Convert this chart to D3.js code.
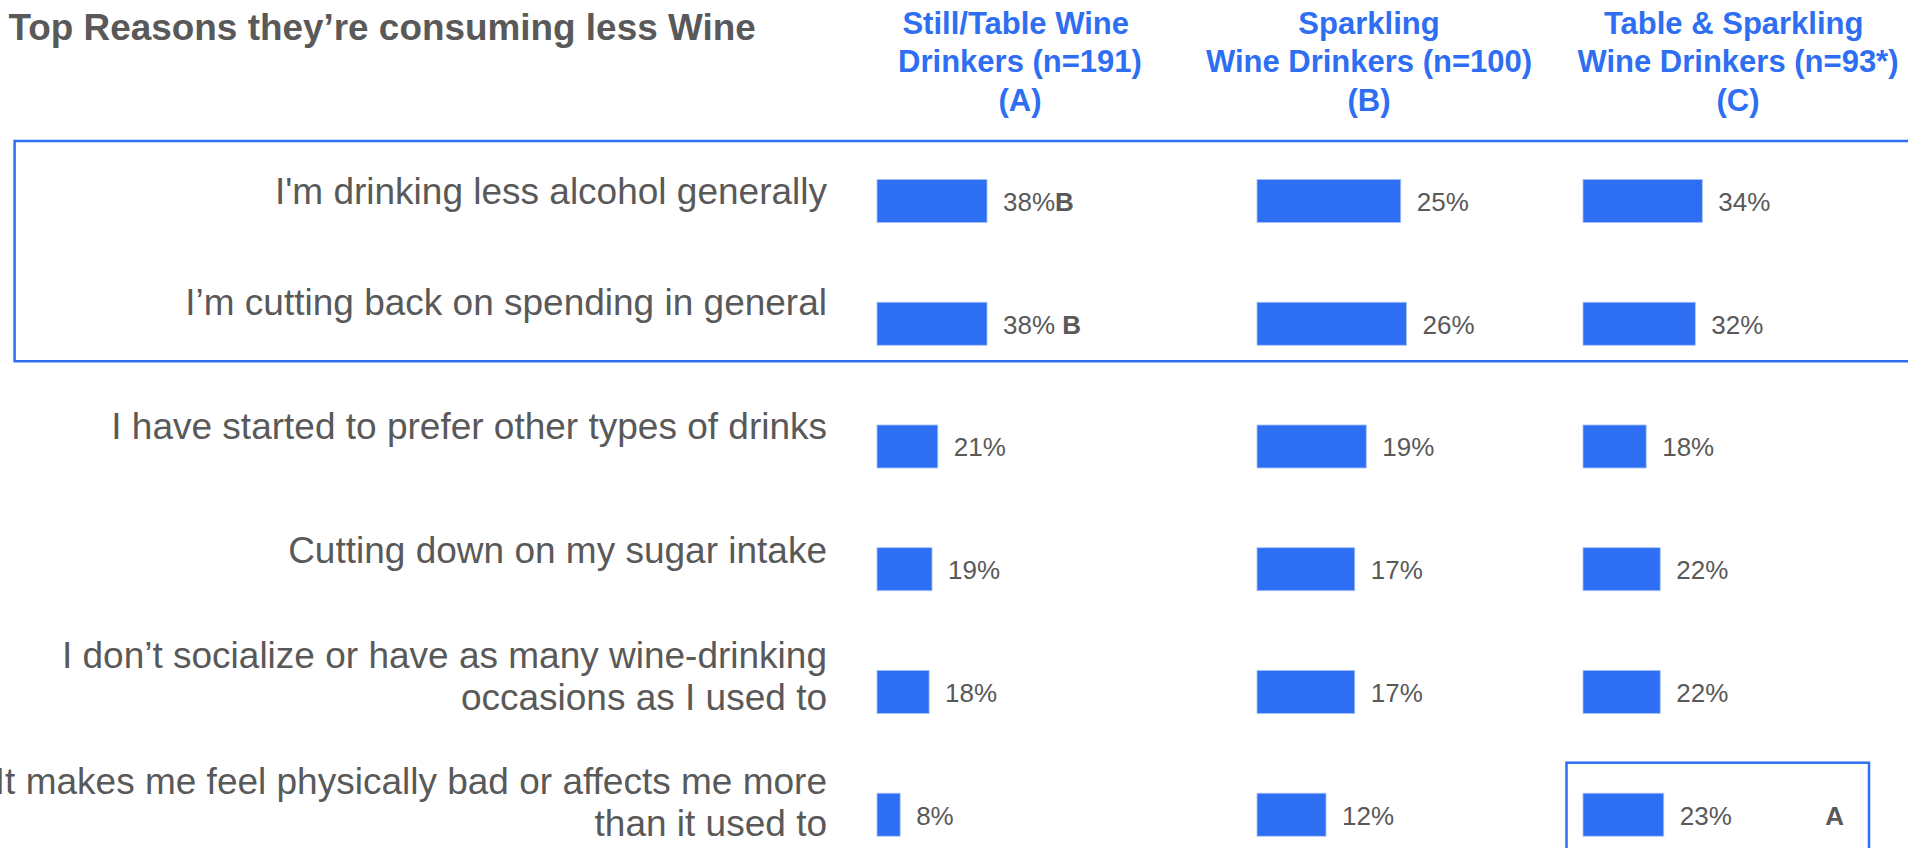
<!DOCTYPE html>
<html>
<head>
<meta charset="utf-8">
<script src="https://cdn.jsdelivr.net/npm/d3@7"></script>
<style>
  html, body { margin: 0; padding: 0; background: #ffffff; }
  svg { display: block; font-family: "Liberation Sans", Arial, sans-serif; }
</style>
</head>
<body>
<svg id="chart" width="1908" height="848"></svg>
<script>
// Survey: reasons for drinking less wine, by drinker group
const title = "Top Reasons they’re consuming less Wine";

const reasons = [
  ["I'm drinking less alcohol generally"],
  ["I’m cutting back on spending in general"],
  ["I have started to prefer other types of drinks"],
  ["Cutting down on my sugar intake"],
  ["I don’t socialize or have as many wine-drinking", "occasions as I used to"],
  ["It makes me feel physically bad or affects me more", "than it used to"]
];

const groupHeaders = [
  ["Still/Table Wine\u00a0", "Drinkers (n=191)", "(A)"],
  ["Sparkling", "Wine Drinkers (n=100)", "(B)"],
  ["Table & Sparkling\u00a0", "Wine Drinkers (n=93*)", "(C)"]
];

const stillValues     = [38, 38, 21, 19, 18, 8];
const sparklingValues = [25, 26, 19, 17, 17, 12];
const bothValues      = [34, 32, 18, 22, 22, 23];

// significance letters (group that this cell is significantly higher than)
const stillSig     = ["B", " B", "", "", "", ""];
const sparklingSig = ["", "", "", "", "", ""];
const bothSig      = ["", "", "", "", "", "A"];

const series = [
  { values: stillValues, sig: stillSig },
  { values: sparklingValues, sig: sparklingSig },
  { values: bothValues, sig: bothSig }
];

// ---- layout ----
const grey = "#595959";
const blue = "#2E6EF2";
const svg = d3.select("#chart");

const rowIdx = d3.range(reasons.length);
const y = d3.scalePoint().domain(rowIdx).range([201, 814.7]);
const barH = 43;

// each group column has its own x scale
const colLeft = [877, 1257, 1583];
const colCenter = [1020, 1369, 1738];
const colWidthPer100 = [289.5, 575, 351];
const xScales = colLeft.map((l, i) =>
  d3.scaleLinear().domain([0, 100]).range([l, l + colWidthPer100[i]]));

// title
svg.append("text")
  .attr("x", 8.5).attr("y", 40)
  .attr("font-size", 36.9).attr("font-weight", "bold")
  .attr("fill", grey)
  .text(title);

// group headers
groupHeaders.forEach((lines, c) => {
  const t = svg.append("text")
    .attr("text-anchor", "middle")
    .attr("font-size", 31).attr("font-weight", "bold")
    .attr("fill", blue)
    .style("white-space", "pre");
  lines.forEach((ln, k) => {
    t.append("tspan").attr("x", colCenter[c]).attr("y", 34 + k * 38.3).text(ln);
  });
});

// highlight box around the first two reasons
const labelShift = [-10, -22, -21, -20, -16, -13];
svg.append("rect")
  .attr("x", 14.6).attr("y", y(0) - 60)
  .attr("width", 1950).attr("height", (y(1) + 37.5) - (y(0) - 60))
  .attr("fill", "none").attr("stroke", blue).attr("stroke-width", 2.5);

// reason labels
const labelSize = 37, lineGap = 42;
reasons.forEach((lines, i) => {
  const mid = y(i) + labelShift[i];
  const t = svg.append("text")
    .attr("text-anchor", "end")
    .attr("font-size", labelSize)
    .attr("fill", grey);
  lines.forEach((ln, k) => {
    const cy = mid + (k - (lines.length - 1) / 2) * lineGap;
    t.append("tspan").attr("x", 827).attr("y", cy + labelSize * 0.36).text(ln);
  });
});

// bars + value labels
const valSize = 26;
series.forEach((s, c) => {
  const x = xScales[c];
  const g = svg.append("g");
  g.selectAll("rect")
    .data(s.values)
    .join("rect")
    .attr("x", x(0))
    .attr("y", (d, i) => y(i) - barH / 2)
    .attr("width", d => x(d) - x(0))
    .attr("height", barH)
    .attr("fill", blue)
    .attr("stroke", "#a9c3f8").attr("stroke-width", 0.8);

  s.values.forEach((v, i) => {
    const t = g.append("text")
      .attr("x", x(v) + 16)
      .attr("y", y(i) + valSize * 0.38)
      .attr("font-size", valSize)
      .attr("fill", grey)
      .style("white-space", "pre");
    t.append("tspan").text(v + "%");
    const letter = s.sig[i];
    if (letter && c === 0) {
      t.append("tspan").attr("font-weight", "bold").text(letter);
    }
  });
});

// boxed cell: Table & Sparkling, physically bad — significantly higher than (A)
const boxRow = 5, boxCol = 2;
svg.append("rect")
  .attr("x", colLeft[boxCol] - 16.5).attr("y", y(boxRow) - 52)
  .attr("width", 302.5).attr("height", 104)
  .attr("fill", "none").attr("stroke", blue).attr("stroke-width", 2.5);
svg.append("text")
  .attr("x", colLeft[boxCol] + 261).attr("y", y(boxRow) + valSize * 0.38)
  .attr("text-anchor", "end")
  .attr("font-size", valSize).attr("font-weight", "bold")
  .attr("fill", grey)
  .text(series[boxCol].sig[boxRow]);
</script>
</body>
</html>
